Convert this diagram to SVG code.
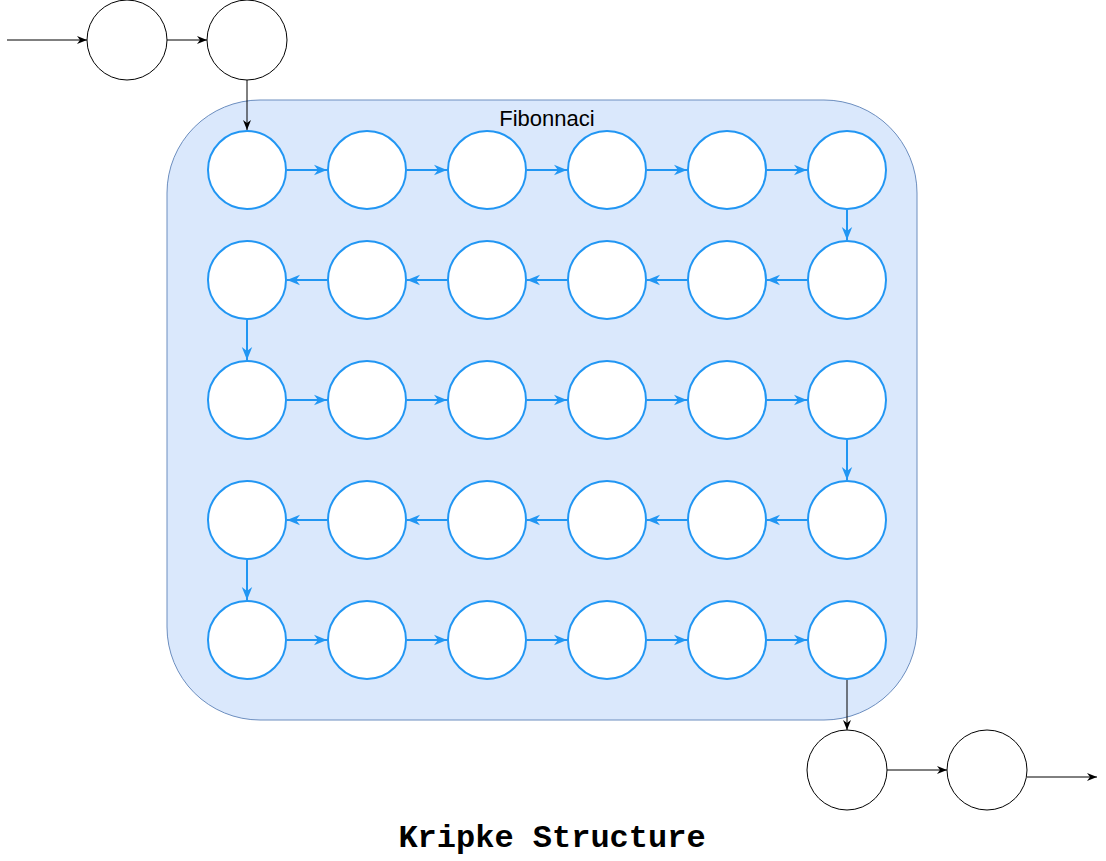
<svg xmlns="http://www.w3.org/2000/svg" width="1106" height="861" viewBox="0 0 1106 861">
<style>
.bk{fill:#fff;stroke:#000;stroke-width:1}
.bl{fill:#fff;stroke:#2196f3;stroke-width:2}
.eb{stroke:#000;stroke-width:1;fill:none;marker-end:url(#ab)}
.el{stroke:#2196f3;stroke-width:2;fill:none;marker-end:url(#al)}
</style>
<defs>
<marker id="ab" viewBox="0 0 10 10" refX="10" refY="5" markerWidth="10" markerHeight="10" markerUnits="userSpaceOnUse" orient="auto"><path d="M0,1 L10,5 L0,9 L3,5 Z" fill="#000"/></marker>
<marker id="al" viewBox="0 0 10 10" refX="10" refY="5" markerWidth="13" markerHeight="13" markerUnits="userSpaceOnUse" orient="auto"><path d="M0,1 L10,5 L0,9 L3,5 Z" fill="#2196f3"/></marker>
</defs>
<g id="container">
<rect x="167" y="100" width="750" height="620" rx="93" ry="93" fill="#dae8fc" stroke="#6c8ebf" stroke-width="1"/>
<text x="547" y="126" font-family="Liberation Sans, Arial, sans-serif" font-size="22" text-anchor="middle">Fibonnaci</text>
</g>
<g id="nodes">
<g id="s0"><circle class="bk" cx="127" cy="40" r="40"/></g>
<g id="s1"><circle class="bk" cx="247" cy="40" r="40"/></g>
<g id="f1"><circle class="bl" cx="247" cy="170" r="39"/></g>
<g id="f2"><circle class="bl" cx="367" cy="170" r="39"/></g>
<g id="f3"><circle class="bl" cx="487" cy="170" r="39"/></g>
<g id="f4"><circle class="bl" cx="607" cy="170" r="39"/></g>
<g id="f5"><circle class="bl" cx="727" cy="170" r="39"/></g>
<g id="f6"><circle class="bl" cx="847" cy="170" r="39"/></g>
<g id="f7"><circle class="bl" cx="847" cy="280" r="39"/></g>
<g id="f8"><circle class="bl" cx="727" cy="280" r="39"/></g>
<g id="f9"><circle class="bl" cx="607" cy="280" r="39"/></g>
<g id="f10"><circle class="bl" cx="487" cy="280" r="39"/></g>
<g id="f11"><circle class="bl" cx="367" cy="280" r="39"/></g>
<g id="f12"><circle class="bl" cx="247" cy="280" r="39"/></g>
<g id="f13"><circle class="bl" cx="247" cy="400" r="39"/></g>
<g id="f14"><circle class="bl" cx="367" cy="400" r="39"/></g>
<g id="f15"><circle class="bl" cx="487" cy="400" r="39"/></g>
<g id="f16"><circle class="bl" cx="607" cy="400" r="39"/></g>
<g id="f17"><circle class="bl" cx="727" cy="400" r="39"/></g>
<g id="f18"><circle class="bl" cx="847" cy="400" r="39"/></g>
<g id="f19"><circle class="bl" cx="847" cy="520" r="39"/></g>
<g id="f20"><circle class="bl" cx="727" cy="520" r="39"/></g>
<g id="f21"><circle class="bl" cx="607" cy="520" r="39"/></g>
<g id="f22"><circle class="bl" cx="487" cy="520" r="39"/></g>
<g id="f23"><circle class="bl" cx="367" cy="520" r="39"/></g>
<g id="f24"><circle class="bl" cx="247" cy="520" r="39"/></g>
<g id="f25"><circle class="bl" cx="247" cy="640" r="39"/></g>
<g id="f26"><circle class="bl" cx="367" cy="640" r="39"/></g>
<g id="f27"><circle class="bl" cx="487" cy="640" r="39"/></g>
<g id="f28"><circle class="bl" cx="607" cy="640" r="39"/></g>
<g id="f29"><circle class="bl" cx="727" cy="640" r="39"/></g>
<g id="f30"><circle class="bl" cx="847" cy="640" r="39"/></g>
<g id="e0"><circle class="bk" cx="847" cy="770" r="40"/></g>
<g id="e1"><circle class="bk" cx="987" cy="770" r="40"/></g>
</g>
<g id="connectors">
<path class="eb" d="M7,40 H87"/>
<path class="eb" d="M167,40 H207"/>
<path class="eb" d="M247,80 V130"/>
<path class="el" d="M287,170 H327"/>
<path class="el" d="M407,170 H447"/>
<path class="el" d="M527,170 H567"/>
<path class="el" d="M647,170 H687"/>
<path class="el" d="M767,170 H807"/>
<path class="el" d="M847,210 V240"/>
<path class="el" d="M807,280 H767"/>
<path class="el" d="M687,280 H647"/>
<path class="el" d="M567,280 H527"/>
<path class="el" d="M447,280 H407"/>
<path class="el" d="M327,280 H287"/>
<path class="el" d="M247,320 V360"/>
<path class="el" d="M287,400 H327"/>
<path class="el" d="M407,400 H447"/>
<path class="el" d="M527,400 H567"/>
<path class="el" d="M647,400 H687"/>
<path class="el" d="M767,400 H807"/>
<path class="el" d="M847,440 V480"/>
<path class="el" d="M807,520 H767"/>
<path class="el" d="M687,520 H647"/>
<path class="el" d="M567,520 H527"/>
<path class="el" d="M447,520 H407"/>
<path class="el" d="M327,520 H287"/>
<path class="el" d="M247,560 V600"/>
<path class="el" d="M287,640 H327"/>
<path class="el" d="M407,640 H447"/>
<path class="el" d="M527,640 H567"/>
<path class="el" d="M647,640 H687"/>
<path class="el" d="M767,640 H807"/>
<path class="eb" d="M847,680 V730"/>
<path class="eb" d="M887,770 H947"/>
<path class="eb" d="M1027,777 H1097"/>
</g>
<text x="552" y="847" font-family="Liberation Mono, Courier New, monospace" font-weight="bold" font-size="32" text-anchor="middle">Kripke Structure</text>
</svg>
